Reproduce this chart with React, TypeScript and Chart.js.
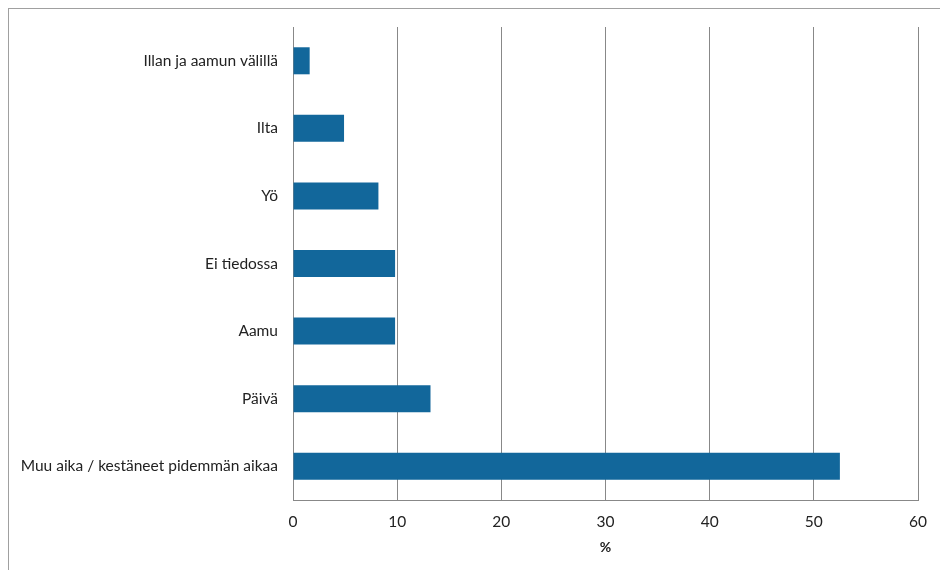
import React, { useEffect, useRef } from "react";
import { Chart, registerables } from "chart.js";

Chart.register(...registerables);

const categories = [
  "Illan ja aamun välillä",
  "Ilta",
  "Yö",
  "Ei tiedossa",
  "Aamu",
  "Päivä",
  "Muu aika / kestäneet pidemmän aikaa",
];
const values = [1.6, 4.9, 8.2, 9.8, 9.8, 13.2, 52.5];
const xTicks = [0, 10, 20, 30, 40, 50, 60];
const xTitle = "%";

export default function App() {
  const ref = useRef<HTMLCanvasElement | null>(null);
  useEffect(() => {
    if (!ref.current) return;
    const font = { family: "Lato, 'Open Sans', sans-serif", size: 15.5 };
    const chart = new Chart(ref.current, {
      type: "bar",
      data: {
        labels: categories,
        datasets: [
          {
            data: values,
            backgroundColor: "#12679b",
            borderWidth: 0,
            barPercentage: 0.4,
            categoryPercentage: 1,
          },
        ],
      },
      options: {
        indexAxis: "y",
        responsive: false,
        animation: false,
        layout: { padding: { top: 27, right: 17, left: 0, bottom: 0 } },
        plugins: { legend: { display: false }, tooltip: { enabled: false } },
        scales: {
          x: {
            min: 0,
            max: 60,
            afterBuildTicks: (s: any) => {
              s.ticks = xTicks.map((v) => ({ value: v }));
            },
            afterFit: (s: any) => {
              s.height = 70;
            },
            grid: { color: "#888888", drawTicks: false, lineWidth: 1 },
            border: { color: "#888888" },
            ticks: { color: "#222", font, padding: 13 },
            title: {
              display: true,
              text: xTitle,
              color: "#222",
              font: { ...font, size: 14, weight: "bold" },
              padding: { top: 0, bottom: 14 },
            },
          },
          y: {
            afterFit: (s: any) => {
              s.width = 293;
            },
            grid: { display: false, drawTicks: false },
            border: { color: "#888888" },
            ticks: { color: "#222", font, padding: 15 },
          },
        },
      },
    });
    return () => chart.destroy();
  }, []);
  return (
    <div>
      <div
        style={{
          position: "absolute",
          left: 8,
          top: 8,
          width: 960,
          height: 600,
          border: "1px solid #a0a0a0",
        }}
      />
      <canvas
        ref={ref}
        width={940}
        height={570}
        style={{ position: "absolute", left: 0, top: 0, width: 940, height: 570 }}
      />
    </div>
  );
}
